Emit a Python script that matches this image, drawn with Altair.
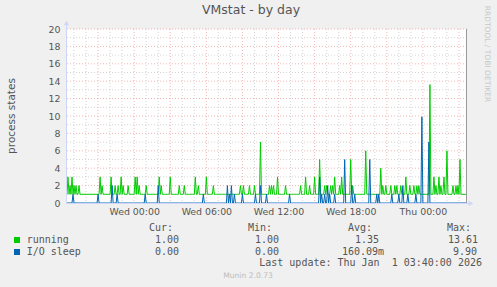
import altair as alt
import pandas as pd

# ---- data (5-minute samples; pixel column -> sample) ----
PX0 = 66            # pixel column of the first sample
N = 400             # samples in the "day" graph
START_H = -17 / 3   # Tue 18:20, hours relative to Wed 00:00
END_H = 83 / 3      # Thu 03:40
STEP_H = 5 / 60

run_px = [68, 70, 72, 74, 76, 79, 100, 102, 111, 115, 118, 121, 123, 128,
          135, 137, 139, 146, 159, 161, 170, 179, 184, 195, 198, 206, 213,
          240, 243, 249, 254, 260, 269, 271, 273, 277, 285,
          300, 305, 309, 314, 319, 324, 326, 330, 332, 334, 339, 341,
          350, 352, 365, 380, 382, 385, 390, 394, 396, 400, 405, 409, 413,
          416, 418, 429, 433, 435, 438, 440, 443, 446, 452, 455, 457, 459]
run_val = [3, 2, 3, 2, 2, 2, 3, 2, 3, 2, 2, 3, 2, 2,
           3, 3, 2, 2, 3, 2, 3, 2, 2, 3, 2, 3, 2,
           2, 2, 2, 2, 7, 2, 2, 2, 3, 2,
           2, 3, 2, 3, 5, 2, 2, 2, 2, 3, 2, 3,
           5, 2, 6, 4, 2, 2, 2, 2, 2, 2, 3, 2, 2,
           2, 2, 13.61, 3, 2, 3, 2, 3, 6, 2, 2, 2, 5]

io_px = [73, 98, 112, 117, 145, 158, 203, 227, 229, 231, 234, 242, 255, 260,
         266, 289, 319, 321, 324, 327, 329, 334, 344, 351, 354, 369, 376, 378,
         391, 398, 402, 407, 415, 421, 428]
io_val = [1, 1, 2, 1, 1, 2, 1, 2, 1, 2, 1, 1, 1, 2,
          1, 1, 3, 1, 1, 2, 1, 1, 5, 2, 1, 5, 1, 1,
          1, 1, 2, 1, 1, 9.9, 7]

RUN_BASE = 1.0
IO_BASE = 0.0

x_tick_vals = [0, 6, 12, 18, 24]
x_tick_labels = ["Wed 00:00", "Wed 06:00", "Wed 12:00", "Wed 18:00", "Thu 00:00"]
y_tick_vals = list(range(0, 21, 2))

legend_heads = ["Cur:", "Min:", "Avg:", "Max:"]
running_stats = ["1.00", "1.00", "1.35", "13.61"]
io_stats = ["0.00", "0.00", "160.09m", "9.90"]
series_names = ["running", "I/O sleep"]
series_colors = ["#00CC00", "#0066B3"]

# ---- build table ----
running = [RUN_BASE] * N
for p, v in zip(run_px, run_val):
    running[p - PX0] = v
io = [IO_BASE] * N
for p, v in zip(io_px, io_val):
    io[p - PX0] = v
hours = [START_H + i * STEP_H for i in range(N)]
df = pd.DataFrame({"h": hours, "running": running, "io": io})

W, H = 401, 174
FONT = "DejaVu Sans"
MONO = "DejaVu Sans Mono"
TXT = "#555555"

xs = alt.Scale(domain=[START_H, END_H], nice=False, zero=False)
ys = alt.Scale(domain=[0, 20], nice=False, zero=False)

label_expr = "''"
for v, l in reversed(list(zip(x_tick_vals, x_tick_labels))):
    label_expr = f"datum.value == {v} ? '{l}' : ({label_expr})"

XAX = alt.Axis(values=x_tick_vals, labelExpr=label_expr, title=None, grid=False,
               domain=False, ticks=False, labelPadding=4, labelFontSize=9.4,
               labelColor=TXT, labelFont=FONT, labelFlush=False)
YAX = alt.Axis(values=y_tick_vals, title=None, grid=False, domain=False, ticks=False,
               labelPadding=6, labelFontSize=9.4, labelColor=TXT, labelFont=FONT)

major_h = [h for h in range(-5, 28) if h % 3 == 0]
minor_h = [h for h in range(-5, 28) if h % 3 != 0]
major_y = [v for v in range(1, 21) if v % 2 == 0]
minor_y = [v for v in range(1, 21) if v % 2 == 1]

MINOR_C = "rgba(170,170,170,0.5)"
MAJOR_C = "rgba(230,90,90,0.45)"

vminor = alt.Chart(pd.DataFrame({"h": minor_h})).mark_rule(
    color=MINOR_C, strokeDash=[1, 2], strokeWidth=1).encode(
    x=alt.X("h:Q", scale=xs, axis=XAX))
vmajor = alt.Chart(pd.DataFrame({"h": major_h})).mark_rule(
    color=MAJOR_C, strokeDash=[1, 2], strokeWidth=1).encode(
    x=alt.X("h:Q", scale=xs, axis=XAX))
hminor = alt.Chart(pd.DataFrame({"v": minor_y})).mark_rule(
    color=MINOR_C, strokeDash=[1, 2], strokeWidth=1).encode(
    y=alt.Y("v:Q", scale=ys, axis=YAX))
hmajor = alt.Chart(pd.DataFrame({"v": major_y})).mark_rule(
    color=MAJOR_C, strokeDash=[1, 2], strokeWidth=1).encode(
    y=alt.Y("v:Q", scale=ys, axis=YAX))

line_run = alt.Chart(df).mark_line(color=series_colors[0], strokeWidth=1).encode(
    x=alt.X("h:Q", scale=xs, axis=XAX), y=alt.Y("running:Q", scale=ys, axis=YAX))
line_io = alt.Chart(df).mark_line(color=series_colors[1], strokeWidth=1).encode(
    x=alt.X("h:Q", scale=xs, axis=XAX), y=alt.Y("io:Q", scale=ys, axis=YAX))

AX = "#CFD6F8"
one = pd.DataFrame({"k": [0]})
yaxis_line = alt.Chart(one).mark_rule(color=AX, strokeWidth=1).encode(
    x=alt.value(0.5), y=alt.value(-4), y2=alt.value(H))
xaxis_line = alt.Chart(one).mark_rule(color=AX, strokeWidth=1).encode(
    x=alt.value(0), x2=alt.value(W + 3), y=alt.value(H + 0.5))
right_border = alt.Chart(one).mark_rule(color="#999999", strokeWidth=1).encode(
    x=alt.value(W - 0.5), y=alt.value(0), y2=alt.value(H))
arrow_up = alt.Chart(one).mark_point(shape="triangle-up", filled=True, color=AX,
                                     size=28, opacity=1).encode(
    x=alt.value(0.5), y=alt.value(-6))
arrow_right = alt.Chart(one).mark_point(shape="triangle-right", filled=True, color=AX,
                                        size=28, opacity=1).encode(
    x=alt.value(W + 4), y=alt.value(H + 0.5))


def txt(s, x, y, size=10, font=MONO, color=TXT, align="left", angle=0,
        baseline="middle"):
    return alt.Chart(pd.DataFrame({"t": [s]})).mark_text(
        font=font, fontSize=size, color=color, align=align, baseline=baseline,
        angle=angle).encode(text="t:N", x=alt.value(x), y=alt.value(y))


texts = [
    txt("VMstat - by day", 185, -19, size=12.5, font=FONT, align="center"),
    txt("process states", -54, 87, size=10.5, font=FONT, align="center", angle=270),
    txt("RRDTOOL / TOBI OETIKER", 421, 25, size=7.5, font=FONT, color="#C8C8C8",
        align="center", angle=90),
    txt("Munin 2.0.73", 182, 247, size=7.6, font=FONT, color="#BBBBBB", align="center"),
    txt("Last update: Thu Jan\u00a0 1 03:40:00 2026", 416, 234.3, align="right"),
]
head_x = [83, 182, 282, 381]
run_x = [89, 189, 289, 382]
io_x = [89, 189, 276, 387]
for s, x in zip(legend_heads, head_x):
    texts.append(txt(s, x, 198.7))
for s, x in zip(running_stats, run_x):
    texts.append(txt(s, x, 211))
for s, x in zip(io_stats, io_x):
    texts.append(txt(s, x, 222.7))
texts.append(txt(series_names[0], -39.3, 211))
texts.append(txt(series_names[1], -39.3, 222.7))

squares = [
    alt.Chart(one).mark_square(size=36, color=series_colors[0], opacity=1).encode(
        x=alt.value(-49), y=alt.value(211)),
    alt.Chart(one).mark_square(size=36, color=series_colors[1], opacity=1).encode(
        x=alt.value(-49), y=alt.value(223)),
]

chart = alt.layer(
    vminor, vmajor, hminor, hmajor, right_border, line_run, line_io,
    yaxis_line, xaxis_line, arrow_up, arrow_right, *texts, *squares
).properties(
    width=W, height=H,
    autosize=alt.AutoSizeParams(type="none"),
    padding={"left": 66, "top": 29, "right": 30, "bottom": 84},
    background="#F0F0F0",
).configure_view(fill="#FFFFFF", stroke=None)

chart.save("out.html", embed_options={"renderer": "svg", "actions": False})
